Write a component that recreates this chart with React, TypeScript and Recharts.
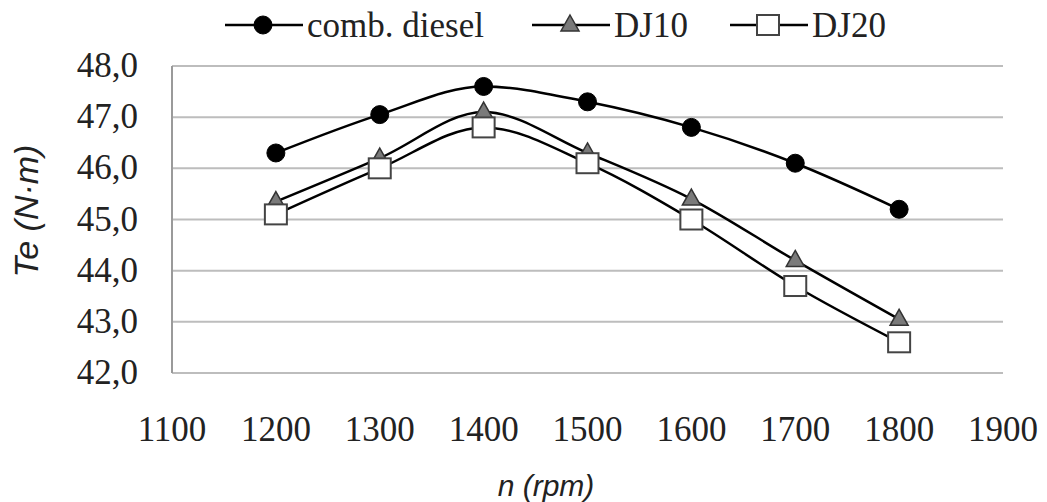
import React from 'react';
import { LineChart, Line, XAxis, YAxis, CartesianGrid, Legend } from 'recharts';

const rpm = [1200, 1300, 1400, 1500, 1600, 1700, 1800];
const diesel = [46.3, 47.05, 47.6, 47.3, 46.8, 46.1, 45.2];
const dj10 = [45.35, 46.2, 47.1, 46.3, 45.4, 44.2, 43.05];
const dj20 = [45.1, 46.0, 46.8, 46.1, 45.0, 43.7, 42.6];
const xTicks = [1100, 1200, 1300, 1400, 1500, 1600, 1700, 1800, 1900];
const yTicks = [42, 43, 44, 45, 46, 47, 48];

const series = [
    { key: 'diesel', name: 'comb. diesel', marker: 'circle' },
    { key: 'dj10', name: 'DJ10', marker: 'triangle' },
    { key: 'dj20', name: 'DJ20', marker: 'square' },
];

const data = rpm.map((n, i) => ({ n, diesel: diesel[i], dj10: dj10[i], dj20: dj20[i] }));

const serif = 'Liberation Serif, serif';
const sans = 'Liberation Sans, Arial, sans-serif';

const Marker = ({ type, cx, cy }: { type: string; cx: number; cy: number }) => {
    if (type === 'circle') return <circle cx={cx} cy={cy} r={9} fill="#000" stroke="#000" />;
    if (type === 'triangle')
        return (
            <path
                d={`M${cx},${cy - 10} L${cx + 9},${cy + 6} L${cx - 9},${cy + 6} Z`}
                fill="#7a7a7a"
                stroke="#333"
                strokeWidth={1.5}
            />
        );
    return <rect x={cx - 11} y={cy - 10} width={22} height={20} fill="#fff" stroke="#444" strokeWidth={2} />;
};

const dotFor = (type: string) => (props: any) =>
    <Marker key={`${type}-${props.index}`} type={type} cx={props.cx} cy={props.cy} />;

const renderXTick = (props: any) => {
    const { x, y, payload, index } = props;
    return (
        <g key={`xt-${index}`}>
            <text x={x} y={y + 60} textAnchor="middle" fontFamily={serif} fontSize={35} fill="#222">
                {String(payload.value)}
            </text>
        </g>
    );
};

const renderYTick = (props: any) => {
    const { x, y, payload, index } = props;
    return (
        <g key={`yt-${index}`}>
            <text x={x - 26} y={y + 11} textAnchor="end" fontFamily={serif} fontSize={35} fill="#222">
                {payload.value.toFixed(1).replace('.', ',')}
            </text>
        </g>
    );
};

const legendPos = [225, 532, 730];

const LegendContent = () => (
    <svg width={1047} height={50}>
        {series.map((s, i) => {
            const x0 = legendPos[i];
            return (
                <g key={s.key}>
                    <line x1={x0} y1={25} x2={x0 + 78} y2={25} stroke="#000" strokeWidth={2.5} />
                    <Marker type={s.marker} cx={x0 + 38} cy={25} />
                    <text x={x0 + 82} y={37} fontFamily={serif} fontSize={35} fill="#222">
                        {s.name}
                    </text>
                </g>
            );
        })}
    </svg>
);

export default function App() {
    return (
        <div style={{ position: 'absolute', left: 0, top: 0, width: 1047, height: 502, background: '#fff' }}>
            <LineChart width={1047} height={502} data={data} margin={{ top: 66, right: 44, bottom: 0, left: 0 }}>
                <CartesianGrid vertical={false} stroke="#bdbdbd" strokeWidth={2} />
                <XAxis
                    dataKey="n"
                    type="number"
                    domain={[1100, 1900]}
                    ticks={xTicks}
                    axisLine={false}
                    tickLine={false}
                    height={129}
                    tick={renderXTick}
                    interval={0}
                />
                <YAxis
                    type="number"
                    domain={[42, 48]}
                    ticks={yTicks}
                    width={172}
                    axisLine={{ stroke: '#9a9a9a', strokeWidth: 2 }}
                    tickLine={false}
                    tick={renderYTick}
                    interval={0}
                />
                <Legend verticalAlign="middle" wrapperStyle={{ top: 0, left: 0, width: 1047 }} content={<LegendContent />} />
                {series.map((s) => (
                    <Line
                        key={s.key}
                        type="monotone"
                        dataKey={s.key}
                        name={s.name}
                        stroke="#000"
                        strokeWidth={2.5}
                        dot={dotFor(s.marker)}
                        isAnimationActive={false}
                    />
                ))}
                <text
                    x={0}
                    y={0}
                    transform="translate(38,211) rotate(-90)"
                    textAnchor="middle"
                    fontFamily={sans}
                    fontSize={34}
                    fontStyle="italic"
                    fill="#222"
                >
                    Te (N·m)
                </text>
                <text
                    x={546}
                    y={496}
                    textAnchor="middle"
                    fontFamily={sans}
                    fontSize={30}
                    fontStyle="italic"
                    fill="#222"
                >
                    n (rpm)
                </text>
            </LineChart>
        </div>
    );
}
